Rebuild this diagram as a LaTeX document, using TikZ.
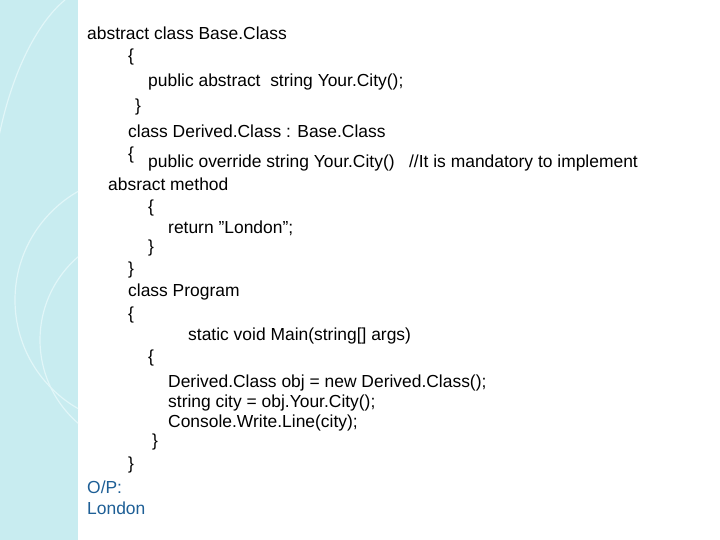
\documentclass[tikz,border=0pt]{standalone}
\usepackage{fontspec}
\setmainfont[Ligatures=NoCommon]{Liberation Sans}
\definecolor{strip}{RGB}{200,236,240}
\definecolor{arcc}{RGB}{225,246,248}
\definecolor{opblue}{RGB}{30,95,150}
\begin{document}
\begin{tikzpicture}[x=1bp,y=-1bp,
  code/.style={anchor=west,inner sep=0pt,font=\fontsize{17.5}{19}\selectfont},
  optext/.style={code,text=opblue}]
\useasboundingbox (0,0) rectangle (720,540);
\fill[white] (0,0) rectangle (720,540);
\fill[strip] (0,0) rectangle (78,540);
\begin{scope}
\clip (0,0) rectangle (78,540);
\draw[arcc,line width=1.2pt] (-10,200) .. controls (0,80) and (40,20) .. (65,0);
\draw[arcc,line width=1.2pt] (140,300) circle (125);
\draw[arcc,line width=1.2pt] (150,340) circle (110);
\end{scope}
\node[code] (l1) at (87,33) {abstract class Base.Class};
\node[code] (l2) at (128,57) {\{};
\node[code] (l3) at (148,82) {public abstract \ string Your.City();};
\node[code] (l4) at (135,107) {\}};
\node[code] (l5) at (128,131) {class Derived.Class : Base.Class};
\node[code] (l6) at (128,155) {\{};
\node[code] (l7) at (148,163) {public override string Your.City() \ \ //It is mandatory to implement};
\node[code] (l8) at (108,184) {absract method};
\node[code] (l9) at (148,208) {\{};
\node[code] (l10) at (168,228) {return \symbol{34}London\symbol{34};};
\node[code] (l11) at (148,248) {\}};
\node[code] (l12) at (128,270) {\}};
\node[code] (l13) at (128,292) {class Program};
\node[code] (l14) at (128,315) {\{};
\node[code] (l15) at (188,336) {static void Main(string[] args)};
\node[code] (l16) at (148,358) {\{};
\node[code] (l17) at (168,383) {Derived.Class obj = new Derived.Class();};
\node[code] (l18) at (168,403) {string city = obj.Your.City();};
\node[code] (l19) at (168,423) {Console.Write.Line(city);};
\node[code] (l20) at (152,442) {\}};
\node[code] (l21) at (128,465) {\}};
\node[optext] (o1) at (87,487) {O/P:};
\node[optext] (o2) at (87,508) {London};
\end{tikzpicture}
\end{document}
